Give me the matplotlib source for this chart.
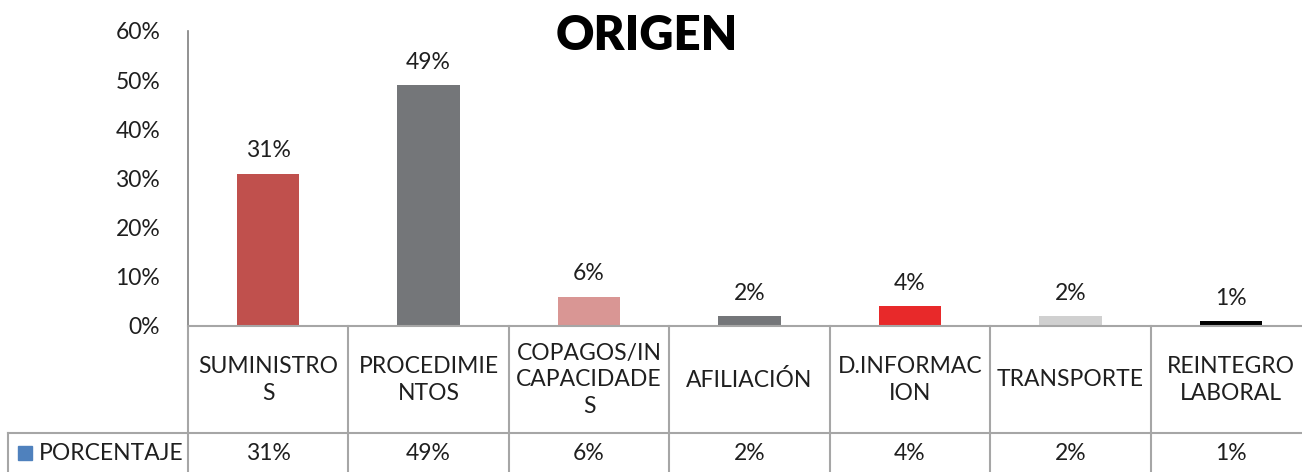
import matplotlib.pyplot as plt
from matplotlib.lines import Line2D
from matplotlib.patches import Rectangle

# datos
categorias = ['SUMINISTRO\nS', 'PROCEDIMIE\nNTOS', 'COPAGOS/IN\nCAPACIDADE\nS', 'AFILIACIÓN',
              'D.INFORMAC\nION', 'TRANSPORTE', 'REINTEGRO\nLABORAL']
porcentajes = [0.31, 0.49, 0.06, 0.02, 0.04, 0.02, 0.01]
colores = ['#C0504D', '#747679', '#D99694', '#747679', '#E8292A', '#D0D0D0', '#000000']
serie = 'PORCENTAJE'
y_ticks = [0, 0.1, 0.2, 0.3, 0.4, 0.5, 0.6]

plt.rcParams['font.family'] = ['Lato', 'DejaVu Sans']
fs = 16.5
txt_color = '#1f1f1f'

W, H = 1302, 472
fig = plt.figure(figsize=(W / 100, H / 100), dpi=100)

# area del grafico en pixeles (se corta un poco a la derecha como el original)
x0, x1 = 188, 1311
y_base, y_top = 326, 31
ax = fig.add_axes([x0 / W, (H - y_base) / H, (x1 - x0) / W, (y_base - y_top) / H])

n = len(categorias)
xs = list(range(n))
ax.bar(xs, porcentajes, width=0.39, color=colores)
for x, v in zip(xs, porcentajes):
    ax.annotate(f'{v:.0%}', (x, v), xytext=(0, 9), textcoords='offset points',
                ha='center', va='bottom', fontsize=fs, color=txt_color)

ax.set_xlim(-0.5, n - 0.5)
ax.set_ylim(0, 0.6)
ax.set_yticks(y_ticks)
ax.set_yticklabels([f'{t:.0%}' for t in y_ticks], fontsize=fs, color=txt_color)
ax.tick_params(axis='y', length=0, pad=20)
ax.set_xticks([])
for s in ['top', 'right', 'bottom']:
    ax.spines[s].set_visible(False)
ax.spines['left'].set_color('#7F7F7F')
ax.spines['left'].set_linewidth(1.2)

fig.text(0.497, 0.924, 'ORIGEN', ha='center', va='center', fontsize=34, fontweight='heavy')

# tabla de datos
line_kw = dict(color='#A6A6A6', linewidth=1.5, transform=fig.transFigure, clip_on=False)
px = 1123 / n
def fx(p):
    return p / W
def fy(p):
    return (H - p) / H

y_row = 433
fig.add_artist(Line2D([fx(x0), 1], [fy(y_base), fy(y_base)], **line_kw))
fig.add_artist(Line2D([fx(8), 1], [fy(y_row), fy(y_row)], **line_kw))
fig.add_artist(Line2D([fx(8), fx(8)], [fy(y_row), fy(H + 2)], **line_kw))
for i in range(n + 1):
    xp = x0 + i * px
    fig.add_artist(Line2D([fx(xp), fx(xp)], [fy(y_base), fy(H + 2)], **line_kw))

for i, (c, v) in enumerate(zip(categorias, porcentajes)):
    xc = x0 + (i + 0.5) * px
    fig.text(fx(xc), fy(380), c, ha='center', va='center', fontsize=fs,
             linespacing=1.35, color=txt_color)
    fig.text(fx(xc), fy(453), f'{v:.0%}', ha='center', va='center', fontsize=fs, color=txt_color)

fig.add_artist(Rectangle((fx(18), fy(460)), 14 / W, 14 / H, color='#4F81BD',
                         transform=fig.transFigure))
fig.text(fx(39), fy(453), serie, ha='left', va='center', fontsize=fs, color=txt_color)

fig.savefig('out.png', dpi=100)
